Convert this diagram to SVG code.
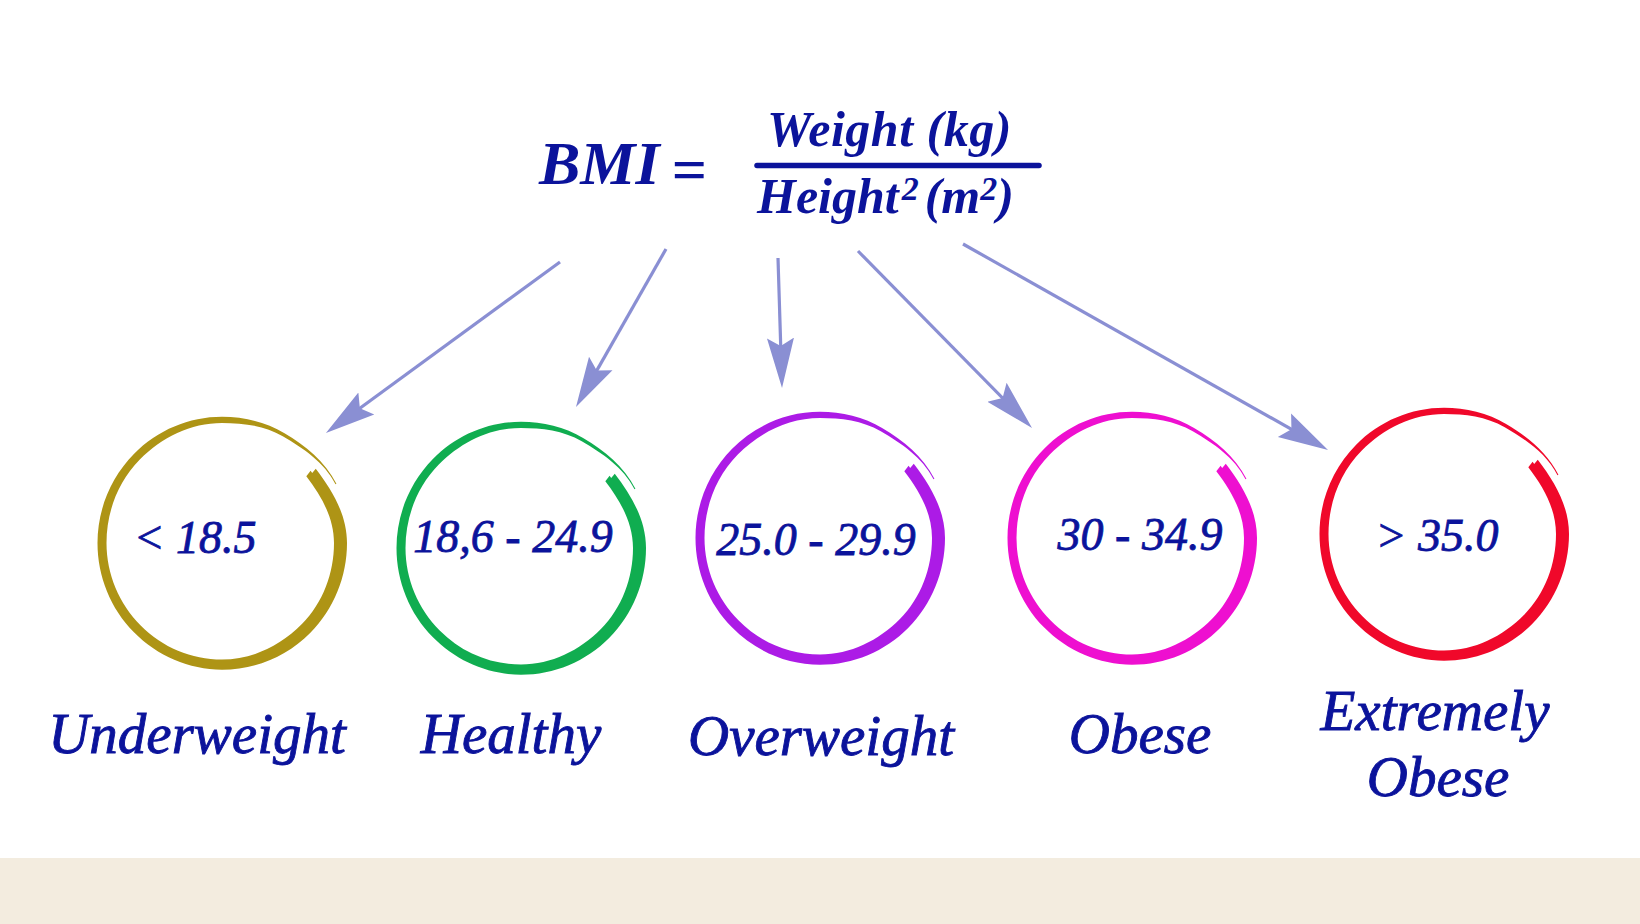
<svg xmlns="http://www.w3.org/2000/svg" xmlns:xlink="http://www.w3.org/1999/xlink" width="1640" height="924" viewBox="0 0 1640 924">
<style>
.t{font-family:"Liberation Serif","Times New Roman",serif;fill:#0b139b;font-style:italic}
.f{font-weight:bold}
.num{font-size:46px;text-anchor:middle;stroke:#0b139b;stroke-width:0.8}
.lab{font-size:57px;text-anchor:middle;stroke:#0b139b;stroke-width:0.9}
.arr{stroke:#8a8fd3;stroke-width:3.2;fill:none;marker-end:url(#ah)}
</style>
<defs>
<marker id="ah" markerUnits="userSpaceOnUse" viewBox="0 -15 52 30" markerWidth="52" markerHeight="30" refX="30" refY="0" orient="auto">
<path d="M50,0 L0,-13.5 L8,0 L0,13.5 Z" fill="#8a8fd3"/>
</marker>
<path id="ring" d="M114.41,-58.29 C103.14,-80.41 83.43,-96.17 62.5,-108.25 C43.5,-119.22 21.82,-124.3 0,-124.3 C-32.97,-124.3 -64.56,-111.16 -87.86,-87.86 C-111.16,-64.56 -124.5,-33.02 -124.5,0 C-124.5,33.02 -111.39,64.69 -88.04,88.04 C-64.69,111.39 -33.11,124.85 0,124.85 C33.11,124.85 64.95,111.83 88.39,88.39 C111.83,64.95 125,33.15 125,0 C125,-27.89 110.12,-52.34 93.77,-73.26 L90.2,-68.9 L88.6,-71.2 L84.32,-65.88 C99.02,-47.07 112,-24.99 112,0 C112,29.7 101.09,58.71 79.9,79.9 C58.71,101.09 30.46,114.85 0,114.85 C-30.46,114.85 -59.75,102.89 -81.32,81.32 C-102.89,59.75 -115.5,30.63 -115.5,0 C-115.5,-30.63 -104,-60.4 -82.2,-82.2 C-60.4,-104 -31.38,-118.3 0,-118.3 C20.77,-118.3 42.28,-115.88 60.75,-105.22 C81.09,-93.48 102.33,-79.79 113.51,-57.84 Z"/>
</defs>
<rect x="0" y="0" width="1640" height="924" fill="#ffffff"/>
<rect x="0" y="858" width="1640" height="66" fill="#f3ecdf"/>

<g id="formula">
<text class="t f" x="539" y="184" font-size="62">BMI</text>
<text class="t f" x="689" y="190" font-size="62" text-anchor="middle">=</text>
<line x1="757" y1="165.5" x2="1039" y2="165.5" stroke="#0b139b" stroke-width="5.5" stroke-linecap="round"/>
<text class="t f" x="767" y="146" font-size="50" letter-spacing="0.5">Weight (kg)</text>
<text class="t f" x="757" y="213" font-size="50">Height<tspan font-size="34" dx="3" dy="-13">2</tspan><tspan font-size="50" dx="6" dy="13">(m</tspan><tspan font-size="34" dy="-13">2</tspan><tspan font-size="50" dy="13">)</tspan></text>
</g>

<g id="connectors">
<line class="arr" x1="560" y1="262" x2="342.1" y2="421.2"/>
<line class="arr" x1="666" y1="249" x2="585.9" y2="389.6"/>
<line class="arr" x1="778" y1="258" x2="781.4" y2="368"/>
<line class="arr" x1="858" y1="251" x2="1018" y2="413.7"/>
<line class="arr" x1="963" y1="244" x2="1310.6" y2="440.1"/>
</g>

<g id="underweight">
<use xlink:href="#ring" href="#ring" transform="translate(222,543) scale(1,1.015)" fill="#ae9415"/>
<text class="t num" x="195" y="553">&lt; 18.5</text>
<text class="t lab" x="197" y="753">Underweight</text>
</g>
<g id="healthy">
<use xlink:href="#ring" href="#ring" transform="translate(521,548) scale(1,1.015)" fill="#10ad50"/>
<text class="t num" x="513" y="552">18,6 - 24.9</text>
<text class="t lab" x="511" y="753">Healthy</text>
</g>
<g id="overweight">
<use xlink:href="#ring" href="#ring" transform="translate(820,538) scale(1,1.015)" fill="#ac1be6"/>
<text class="t num" x="816" y="555">25.0 - 29.9</text>
<text class="t lab" x="821" y="755">Overweight</text>
</g>
<g id="obese">
<use xlink:href="#ring" href="#ring" transform="translate(1132,538) scale(1,1.015)" fill="#ee0fd0"/>
<text class="t num" x="1140" y="550">30 - 34.9</text>
<text class="t lab" x="1140" y="753">Obese</text>
</g>
<g id="extremely-obese">
<use xlink:href="#ring" href="#ring" transform="translate(1444,534) scale(1,1.015)" fill="#f0082a"/>
<text class="t num" x="1437" y="551">&gt; 35.0</text>
<text class="t lab" x="1435" y="730">Extremely</text>
<text class="t lab" x="1438" y="796">Obese</text>
</g>
</svg>
